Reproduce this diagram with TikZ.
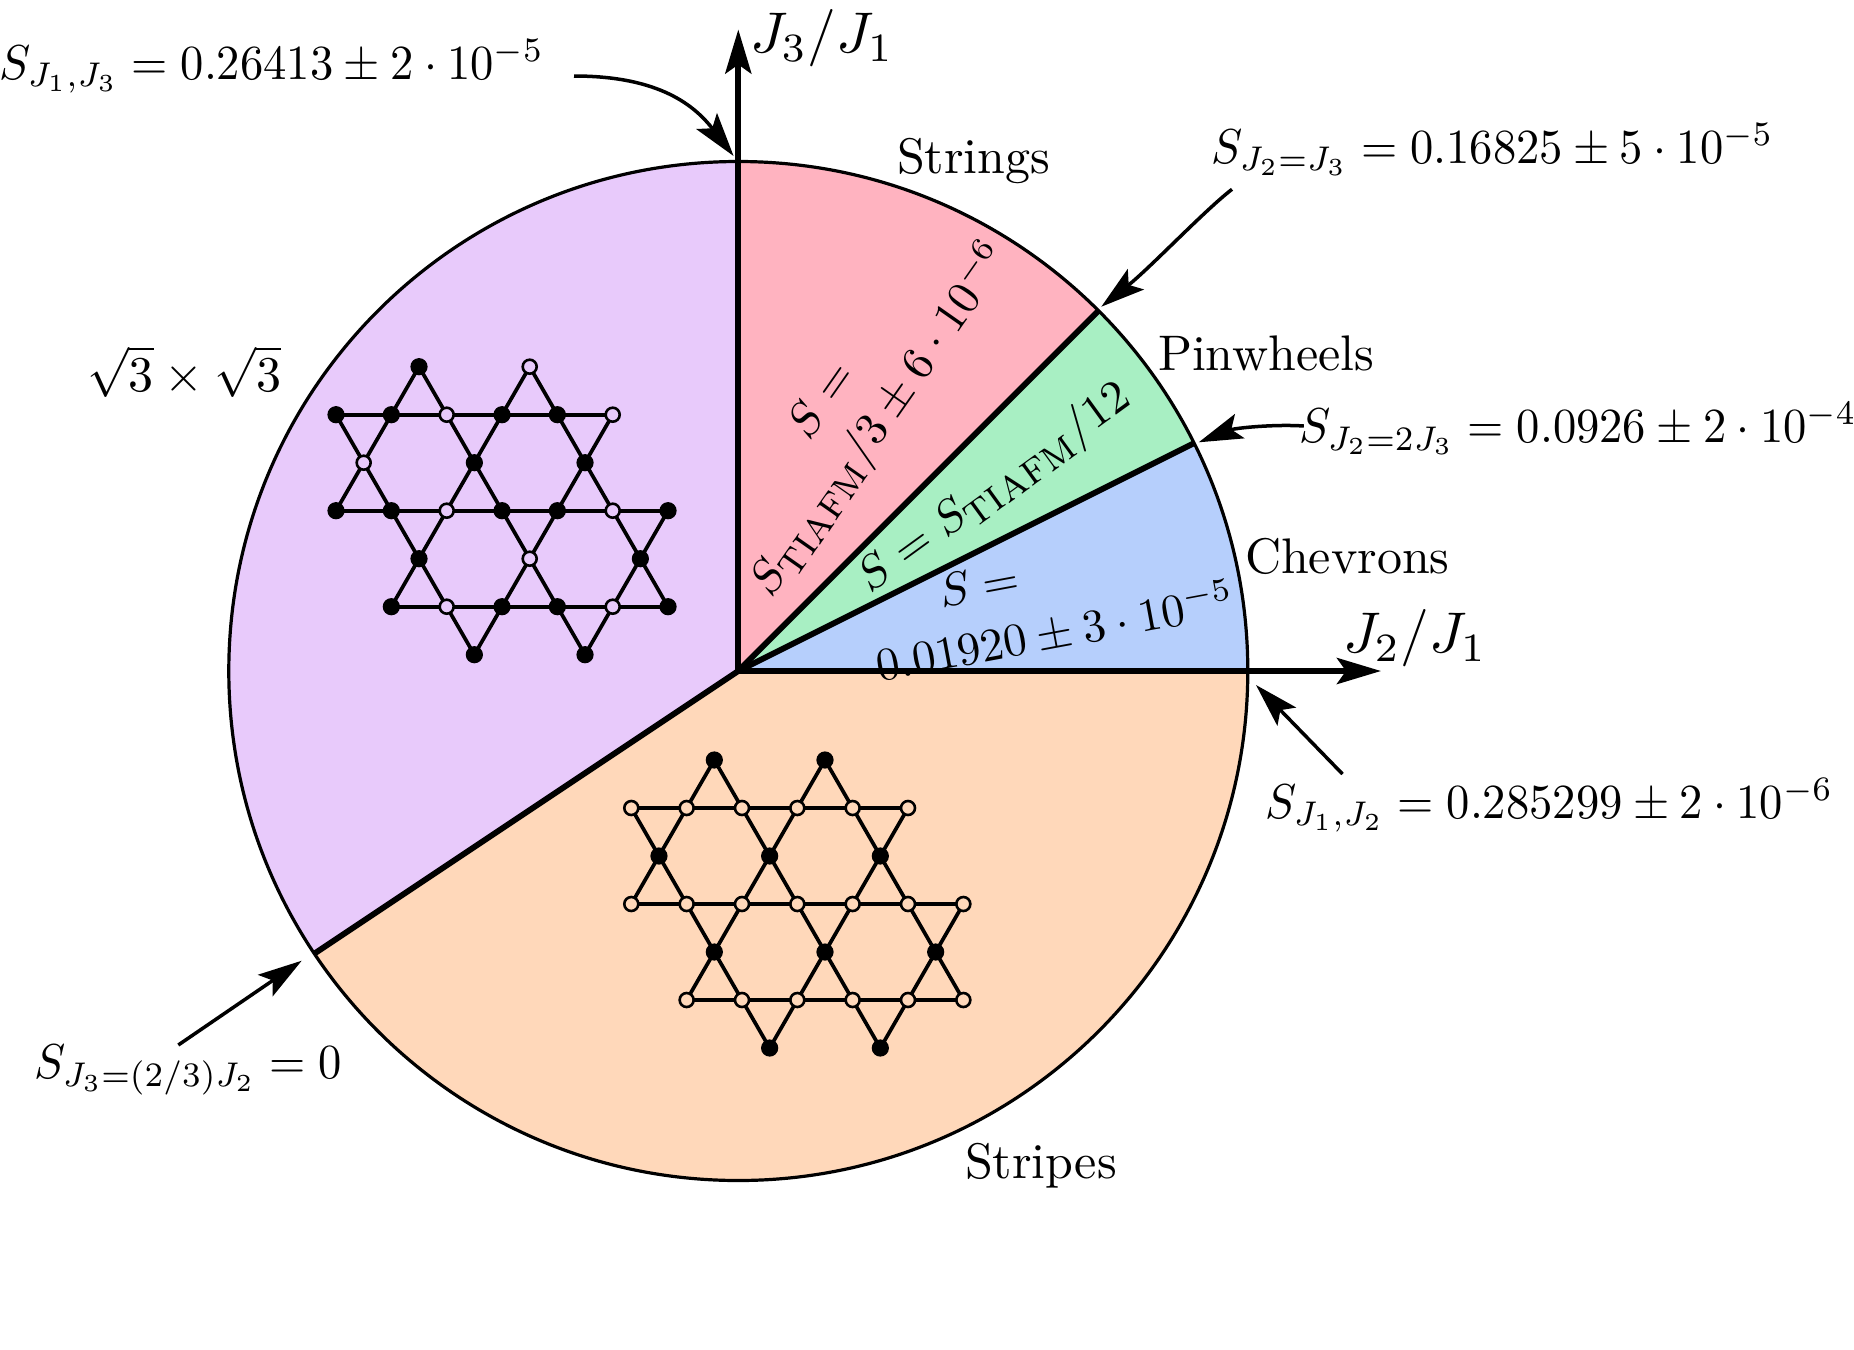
\documentclass[tikz,border=0pt]{standalone}
\usepackage{amsmath}
\usetikzlibrary{arrows.meta,calc}
\definecolor{cPurple}{HTML}{E8CAFB}
\definecolor{cPink}{HTML}{FFB3C0}
\definecolor{cGreen}{HTML}{A8EFC3}
\definecolor{cBlue}{HTML}{B6CFFC}
\definecolor{cOrange}{HTML}{FFD8BA}
\newcommand{\Stiafm}{S_{\mbox{\textsc{tiafm}}}}
\tikzset{
  x=0.5pt,y=-0.5pt,
  lbl/.style={inner sep=0pt,outer sep=0pt,xscale=2.33,yscale=2.45,anchor=base west},
  namelbl/.style={inner sep=0pt,outer sep=0pt,scale=2.5,anchor=base west},
  axislbl/.style={inner sep=0pt,outer sep=0pt,scale=2.87,anchor=base west},
  wedgetxt/.style={inner sep=0pt,outer sep=0pt,scale=2.33,anchor=center},
  blackdot/.style={circle,draw=black,fill=black,line width=0.6pt,minimum size=8pt,inner sep=0pt,outer sep=0pt},
  opendot/.style={circle,draw=black,fill=#1,line width=1.3pt,minimum size=7pt,inner sep=0pt,outer sep=0pt},
  bond/.style={line width=1.85pt},
  spoke/.style={line width=2.9pt},
  rim/.style={line width=1.6pt},
  axisarrow/.style={line width=3pt,-{Stealth[length=22pt,width=13pt,inset=4.5pt]}},
  callout/.style={line width=1.75pt,-{Stealth[length=22pt,width=13pt,inset=4.5pt]}},
}
% #1 prefix, #2 x0, #3 y0, #4 nodes r/c/style
\newcommand{\kagome}[4]{%
  \foreach \r/\c/\k in {#4}{
    \node[\k] (#1-\r-\c) at ({#2+\c*27.67},{#3+\r*48}) {};
  }
  \foreach \r/\c in {1/0,1/2,1/4,1/6,1/8,3/0,3/2,3/4,3/6,3/8,3/10,5/2,5/4,5/6,5/8,5/10}{
    \pgfmathtruncatemacro{\cc}{\c+2}
    \draw[bond] (#1-\r-\c) -- (#1-\r-\cc);
  }
  \foreach \ra/\ca/\rb/\cb in {0/3/1/2,0/3/1/4,0/7/1/6,0/7/1/8,
    2/1/1/0,2/1/1/2,2/1/3/0,2/1/3/2,
    2/5/1/4,2/5/1/6,2/5/3/4,2/5/3/6,
    2/9/1/8,2/9/1/10,2/9/3/8,2/9/3/10,
    4/3/3/2,4/3/3/4,4/3/5/2,4/3/5/4,
    4/7/3/6,4/7/3/8,4/7/5/6,4/7/5/8,
    4/11/3/10,4/11/3/12,4/11/5/10,4/11/5/12,
    6/5/5/4,6/5/5/6,6/9/5/8,6/9/5/10}{
    \draw[bond] (#1-\ra-\ca) -- (#1-\rb-\cb);
  }
}
\begin{document}
\begin{tikzpicture}
\useasboundingbox (0,0) rectangle (1854,1350);
\coordinate (O) at (738.3,671);
\def\R{509.5}
\coordinate (Ptop) at ($(O)+(270:\R)$);
\coordinate (P45) at ($(O)+(-45:\R)$);
\coordinate (P26) at ($(O)+(-26.565:\R)$);
\coordinate (Pright) at ($(O)+(0:\R)$);
\coordinate (Pbl) at ($(O)+(146.31:\R)$);
% sectors
\fill[cPink]   (O) -- (Ptop) arc[start angle=-90,end angle=-45,radius=\R] -- cycle;
\fill[cGreen]  (O) -- (P45) arc[start angle=-45,end angle=-26.565,radius=\R] -- cycle;
\fill[cBlue]   (O) -- (P26) arc[start angle=-26.565,end angle=0,radius=\R] -- cycle;
\fill[cOrange] (O) -- (Pright) arc[start angle=0,end angle=146.31,radius=\R] -- cycle;
\fill[cPurple] (O) -- (Pbl) arc[start angle=146.31,end angle=270,radius=\R] -- cycle;
% rim and spokes
\draw[rim] (O) circle[radius=\R];
\draw[spoke] (O) -- (P45);
\draw[spoke] (O) -- (P26);
\draw[spoke] (O) -- (Pbl);
% axes
\coordinate (Ytip) at (738.3,29.5);
\coordinate (Xtip) at (1381,671);
\draw[axisarrow] (O) -- (Ytip);
\draw[axisarrow] (O) -- (Xtip);
% lattices
\tikzset{dotP/.style={opendot=cPurple},dotO/.style={opendot=cOrange}}
\kagome{a}{336}{366.7}{0/3/blackdot,0/7/dotP,
  1/0/blackdot,1/2/blackdot,1/4/dotP,1/6/blackdot,1/8/blackdot,1/10/dotP,
  2/1/dotP,2/5/blackdot,2/9/blackdot,
  3/0/blackdot,3/2/blackdot,3/4/dotP,3/6/blackdot,3/8/blackdot,3/10/dotP,3/12/blackdot,
  4/3/blackdot,4/7/dotP,4/11/blackdot,
  5/2/blackdot,5/4/dotP,5/6/blackdot,5/8/blackdot,5/10/dotP,5/12/blackdot,
  6/5/blackdot,6/9/blackdot}
\kagome{b}{631.3}{760}{0/3/blackdot,0/7/blackdot,
  1/0/dotO,1/2/dotO,1/4/dotO,1/6/dotO,1/8/dotO,1/10/dotO,
  2/1/blackdot,2/5/blackdot,2/9/blackdot,
  3/0/dotO,3/2/dotO,3/4/dotO,3/6/dotO,3/8/dotO,3/10/dotO,3/12/dotO,
  4/3/blackdot,4/7/blackdot,4/11/blackdot,
  5/2/dotO,5/4/dotO,5/6/dotO,5/8/dotO,5/10/dotO,5/12/dotO,
  6/5/blackdot,6/9/blackdot}
% callouts
\coordinate (A0) at (574,76);   \coordinate (A1) at (733.6,156);
\coordinate (B0) at (1232,189.3); \coordinate (B1) at (1101.3,306.7);
\coordinate (C0) at (1303.8,426); \coordinate (C1) at (1198.7,442.3);
\coordinate (D0) at (1342.5,774); \coordinate (D1) at (1256,685);
\coordinate (E0) at (178.3,1045); \coordinate (E1) at (301.7,960.7);
\draw[callout] (A0) .. controls (660,76) and (695,106) .. (A1);
\draw[callout] (B0) .. controls (1205,210) and (1150,268) .. (B1);
\draw[callout] (C0) .. controls (1275,424) and (1235,428) .. (C1);
\draw[callout] (D0) -- (D1);
\draw[callout] (E0) -- (E1);
% labels
\node[lbl] (t1) at (-1,79.3) {$S_{J_1,J_3}=0.26413\pm 2\cdot 10^{-5}$};
\node[lbl] (t2) at (1211,163) {$S_{J_2=J_3}=0.16825\pm 5\cdot 10^{-5}$};
\node[lbl] (t3) at (1299,442.7) {$S_{J_2=2J_3}=0.0926\pm 2\cdot 10^{-4}$};
\node[lbl] (t4) at (1265,818) {$S_{J_1,J_2}=0.285299\pm 2\cdot 10^{-6}$};
\node[lbl] (t5) at (34,1078) {$S_{J_3=(2/3)J_2}=0$};
\node[namelbl] (n1) at (897,173) {Strings};
\node[namelbl] (n2) at (1158,370) {Pinwheels};
\node[namelbl] (n3) at (1245,573.3) {Chevrons};
\node[namelbl] (n4) at (965,1178) {Stripes};
\node[namelbl] (n5) at (87,391) {$\sqrt{3}\times\sqrt{3}$};
\node[axislbl] (ax1) at (750,52.5) {$J_3/J_1$};
\node[axislbl] (ax2) at (1343,652.7) {$J_2/J_1$};
\node[wedgetxt,rotate=55] (w1a) at (820,399) {$S=$};
\node[wedgetxt,rotate=55] (w1b) at (881,420) {$\Stiafm/3\pm 6\cdot 10^{-6}$};
\node[wedgetxt,rotate=36] (w2) at (995,489) {$S=\Stiafm/12$};
\node[wedgetxt,rotate=10.5] (w3a) at (979,585) {$S=$};
\node[wedgetxt,rotate=10.5] (w3b) at (1055,631.5) {$0.01920\pm 3\cdot 10^{-5}$};
\end{tikzpicture}
\end{document}
